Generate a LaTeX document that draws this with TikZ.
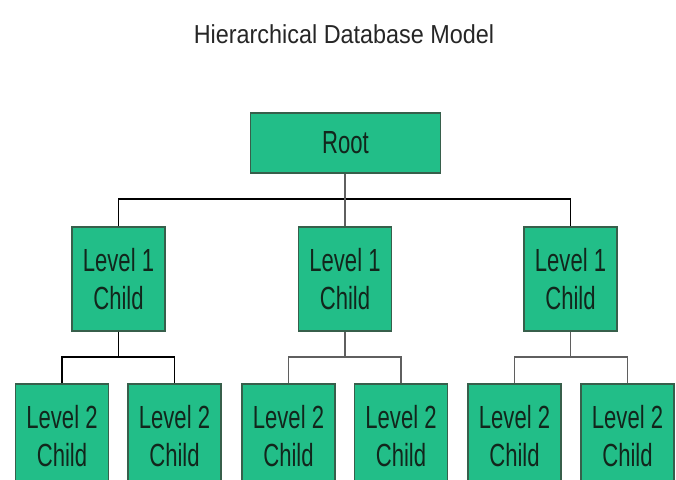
\documentclass[tikz,border=0pt]{standalone}
\usepackage{fontspec}
\setmainfont{Liberation Sans}
\newfontfamily\boxfont[FakeStretch=0.69]{Liberation Sans}
\newfontfamily\titlefont[FakeStretch=0.9]{Liberation Sans}
\definecolor{boxgreen}{RGB}{34,190,136}
\definecolor{boxedge}{RGB}{55,95,75}
\definecolor{boxtext}{RGB}{18,38,28}
\definecolor{linegray}{RGB}{95,95,95}
\begin{document}
\begin{tikzpicture}[x=1pt,y=-1pt,
  box/.style={draw=boxedge,fill=boxgreen,line width=1.3pt,inner sep=0pt,
    minimum width=93pt,minimum height=104pt,align=center,text=boxtext,
    font=\boxfont\fontsize{32}{38}\selectfont},
  rootbox/.style={box,minimum width=190pt,minimum height=60pt},
  blk/.style={draw=black,line width=1.8pt},
  gry/.style={draw=linegray,line width=1.3pt}]
\useasboundingbox (0,0) rectangle (676,479);
\clip (0,0) rectangle (676,479);
\fill[white] (0,0) rectangle (676,479);
\node[anchor=base,font=\titlefont\fontsize{26}{30}\selectfont,text=black!85] (title) at (344,43) {Hierarchical Database Model};
\node[rootbox] (root) at (345.5,143) {Root};
\node[box] (l1a) at (118.5,279) {Level 1\\Child};
\node[box] (l1b) at (345,279) {Level 1\\Child};
\node[box] (l1c) at (570.5,279) {Level 1\\Child};
\node[box] (l2a) at (62,436) {Level 2\\Child};
\node[box] (l2b) at (174.5,436) {Level 2\\Child};
\node[box] (l2c) at (288.5,436) {Level 2\\Child};
\node[box] (l2d) at (401,436) {Level 2\\Child};
\node[box] (l2e) at (514.5,436) {Level 2\\Child};
\node[box] (l2f) at (627.5,436) {Level 2\\Child};
\coordinate (b0) at (345,199);
\coordinate (ba) at (118.5,357);
\coordinate (bb) at (345,357);
\coordinate (bc) at (570.5,357);
\draw[blk] (l1a.north) |- (b0) -| (l1c.north);
\draw[gry] (l1b.north) -- (l1b.north |- root.south);
\draw[blk] (l1a.south) -- (ba);
\draw[blk] (l2a.north) |- (ba) -| (l2b.north);
\draw[gry] (l1b.south) -- (bb);
\draw[gry] (l2c.north) |- (bb) -| (l2d.north);
\draw[gry] (l1c.south) -- (bc);
\draw[gry] (l2e.north) |- (bc) -| (l2f.north);
\end{tikzpicture}
\end{document}
